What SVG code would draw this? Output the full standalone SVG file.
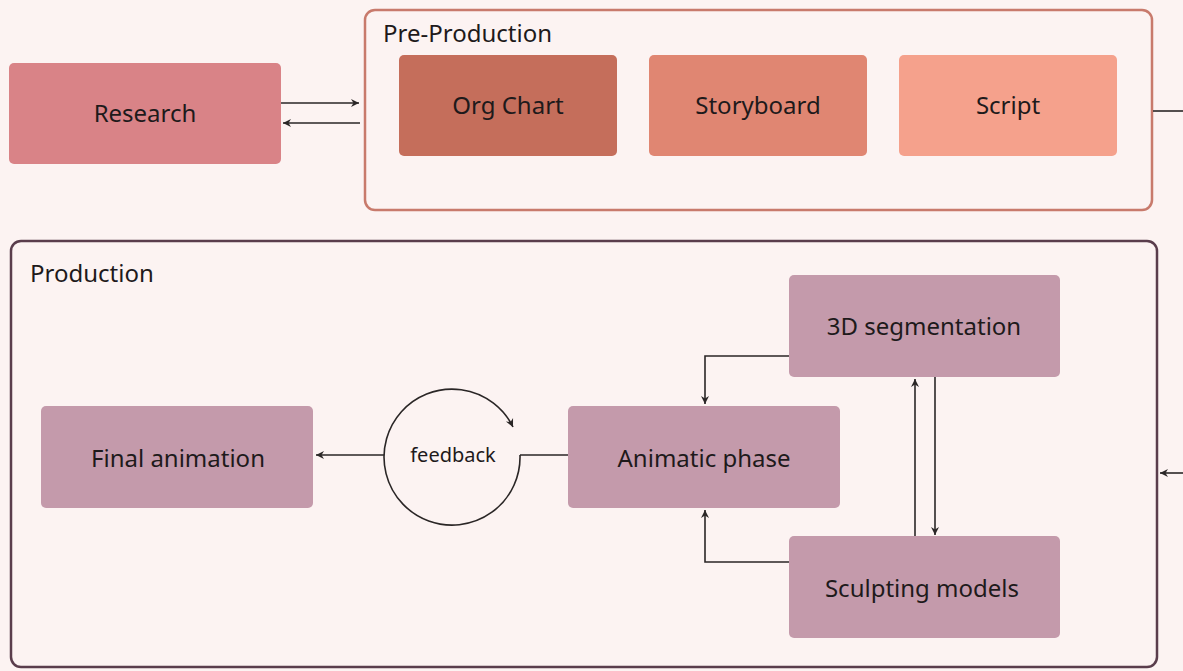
<svg xmlns="http://www.w3.org/2000/svg" width="1183" height="671" viewBox="0 0 1183 671">
<defs>
<marker id="ah" markerWidth="12" markerHeight="12" refX="9" refY="6" orient="auto" markerUnits="userSpaceOnUse">
<path d="M1,2 L9,6 L1,10 L3.5,6 Z" fill="#2a2626"/>
</marker>
<style>
.lbl{font-family:"Noto Sans","Open Sans",sans-serif;font-size:24px;fill:#1e1a1b;text-anchor:middle;dominant-baseline:central}
.ttl{font-family:"Noto Sans","Open Sans",sans-serif;font-size:24px;fill:#1e1a1b}
.con{fill:none;stroke:#2a2626;stroke-width:1.6}
.prod{fill:#c49aab}
</style>
</defs>
<rect width="1183" height="671" fill="#fcf3f2"/>
<g id="preproduction">
<rect x="365" y="10" width="787" height="200" rx="10" fill="none" stroke="#c87a6c" stroke-width="2.5"/>
<text class="ttl" x="383" y="42">Pre-Production</text>
</g>
<g id="production">
<rect x="11" y="241" width="1146" height="426" rx="10" fill="none" stroke="#5a3d4c" stroke-width="2.5"/>
<text class="ttl" x="30" y="282">Production</text>
</g>
<g id="research"><rect x="9" y="63" width="272" height="101" rx="5" fill="#d98387"/><text class="lbl" x="145" y="112">Research</text></g>
<g id="orgchart"><rect x="399" y="55" width="218" height="101" rx="5" fill="#c56e5b"/><text class="lbl" x="508" y="104">Org Chart</text></g>
<g id="storyboard"><rect x="649" y="55" width="218" height="101" rx="5" fill="#e08672"/><text class="lbl" x="758" y="104">Storyboard</text></g>
<g id="script"><rect x="899" y="55" width="218" height="101" rx="5" fill="#f5a18c"/><text class="lbl" x="1008" y="104">Script</text></g>
<g id="segmentation"><rect class="prod" x="789" y="275" width="271" height="102" rx="5"/><text class="lbl" x="924" y="325">3D segmentation</text></g>
<g id="animatic"><rect class="prod" x="568" y="406" width="272" height="102" rx="5"/><text class="lbl" x="704" y="457">Animatic phase</text></g>
<g id="sculpting"><rect class="prod" x="789" y="536" width="271" height="102" rx="5"/><text class="lbl" x="922" y="587">Sculpting models</text></g>
<g id="final"><rect class="prod" x="41" y="406" width="272" height="102" rx="5"/><text class="lbl" x="178" y="457">Final animation</text></g>
<g id="feedback">
<path class="con" d="M520,455 A68,68 0 1 1 513,427" marker-end="url(#ah)"/>
<text class="lbl" x="453" y="454" style="font-size:20px">feedback</text>
</g>
<g id="connectors">
<line class="con" x1="281" y1="103" x2="359" y2="103" marker-end="url(#ah)"/>
<line class="con" x1="360" y1="123" x2="283" y2="123" marker-end="url(#ah)"/>
<line class="con" x1="1153" y1="111" x2="1183" y2="111"/>
<line class="con" x1="1183" y1="473" x2="1160" y2="473" marker-end="url(#ah)"/>
<line class="con" x1="568" y1="455" x2="520" y2="455"/>
<line class="con" x1="384" y1="455" x2="316" y2="455" marker-end="url(#ah)"/>
<polyline class="con" points="789,356 705,356 705,404" marker-end="url(#ah)"/>
<polyline class="con" points="789,562 705,562 705,510" marker-end="url(#ah)"/>
<line class="con" x1="915" y1="536" x2="915" y2="379" marker-end="url(#ah)"/>
<line class="con" x1="935" y1="377" x2="935" y2="535" marker-end="url(#ah)"/>
</g>
</svg>
